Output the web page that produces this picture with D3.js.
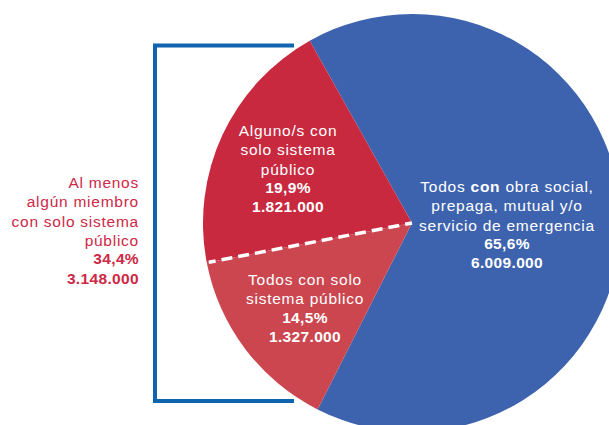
<!DOCTYPE html>
<html>
<head>
<meta charset="utf-8">
<script src="https://cdnjs.cloudflare.com/ajax/libs/d3/7.8.5/d3.min.js"></script>
<style>
  body { margin: 0; background: #fff; }
  svg { display: block; }
  text { font-family: "Liberation Sans", Arial, sans-serif; }
</style>
</head>
<body>
<div id="chart"></div>
<script>
// slices, in drawing order (clockwise from the top-left edge of the blue one)
var sliceNames = ["obra social", "solo publico", "alguno publico"];
var slicePercents = [65.6, 14.5, 19.9];
var sliceColors = ["#3e63ae", "#cb464f", "#c8293f"];

// label lines per slice; bold lines are the numbers
var sliceLines = [
    [["Todos ", "con", " obra social,"], "prepaga, mutual y/o", "servicio de emergencia"],
    ["Todos con solo", "sistema público"],
    ["Alguno/s con", "solo sistema", "público"]
];
var sliceNumbers = [
    ["65,6%", "6.009.000"],
    ["14,5%", "1.327.000"],
    ["19,9%", "1.821.000"]
];

var groupLines = ["Al menos", "algún miembro", "con solo sistema", "público"];
var groupNumbers = ["34,4%", "3.148.000"];

var width = 609, height = 425;
var cx = 412, cy = 223, radius = 209;
var startDeg = -29.3;

var svg = d3.select("#chart").append("svg")
    .attr("width", width)
    .attr("height", height);

var g = svg.append("g")
    .attr("transform", "translate(" + cx + "," + cy + ")");

var pie = d3.pie()
    .sort(null)
    .value(function(d) { return d; })
    .startAngle(startDeg * Math.PI / 180)
    .endAngle(startDeg * Math.PI / 180 + 2 * Math.PI);

var arcs = pie(slicePercents);

var arc = d3.arc().innerRadius(0).outerRadius(radius);

g.selectAll("path.slice")
    .data(arcs)
    .enter().append("path")
    .attr("class", "slice")
    .attr("d", arc)
    .attr("fill", function(d, i) { return sliceColors[i]; });

// dashed divider between the two red slices
var divA = arcs[1].endAngle;
g.append("line")
    .attr("x1", 0).attr("y1", 0)
    .attr("x2", Math.sin(divA) * (radius - 2))
    .attr("y2", -Math.cos(divA) * (radius - 2))
    .attr("stroke", "#fff")
    .attr("stroke-width", 3.5)
    .attr("stroke-dasharray", "11,6")
    .attr("stroke-dashoffset", 4);

// bracket on the left
svg.append("path")
    .attr("d", "M294,45.5 L155,45.5 L155,401 L294,401")
    .attr("fill", "none")
    .attr("stroke", "#1063ae")
    .attr("stroke-width", 4);

var fs = 15.5, lh = 19.3;

function block(x, y, anchor, color, lines, numbers) {
    var t = svg.append("text")
        .attr("text-anchor", anchor)
        .attr("fill", color)
        .style("font-size", fs + "px");
    lines.forEach(function(l, i) {
        var ts = t.append("tspan").attr("x", x).attr("y", y + i * lh)
            .style("letter-spacing", "0.75px");
        if (Array.isArray(l)) {
            l.forEach(function(part, j) {
                ts.append("tspan").attr("font-weight", j == 1 ? "bold" : null).text(part);
            });
        } else {
            ts.text(l);
        }
    });
    numbers.forEach(function(n, i) {
        t.append("tspan")
            .attr("x", x)
            .attr("y", y + (lines.length + i) * lh - 1)
            .attr("font-weight", "bold")
            .style("letter-spacing", "0.35px")
            .text(n);
    });
}

block(507, 192, "middle", "#fff", sliceLines[0], sliceNumbers[0]);
block(305, 285, "middle", "#fff", sliceLines[1], sliceNumbers[1]);
block(288, 136, "middle", "#fff", sliceLines[2], sliceNumbers[2]);
block(139, 188, "end", "#cd2846", groupLines, groupNumbers);
</script>
</body>
</html>
